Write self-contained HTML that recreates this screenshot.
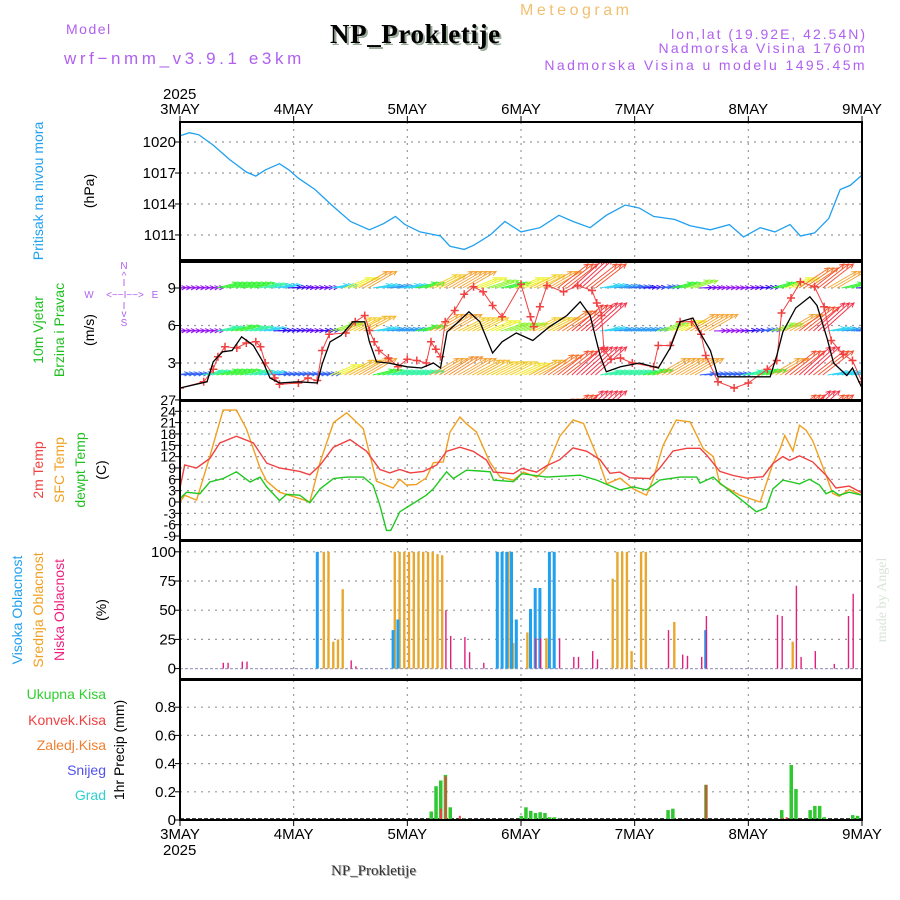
<!DOCTYPE html>
<html><head><meta charset="utf-8"><title>Meteogram NP_Prokletije</title>
<style>
html,body{margin:0;padding:0;background:#fff;}
svg{display:block;font-family:"Liberation Sans",sans-serif;}
</style></head>
<body>
<svg id="chart" width="900" height="900" viewBox="0 0 900 900" xmlns="http://www.w3.org/2000/svg">
<defs>
<clipPath id="clipP"><rect x="180" y="122" width="682" height="138"/></clipPath>
<clipPath id="clipW"><rect x="180" y="262" width="682" height="138"/></clipPath>
<clipPath id="clipT"><rect x="180" y="401" width="682" height="139"/></clipPath>
</defs>
<!-- header -->
<text x="520" y="15" font-size="16" fill="#f0c070" letter-spacing="3.5">Meteogram</text>
<text x="66" y="34" font-size="14" fill="#b060f0" letter-spacing="1.5">Model</text>
<text x="64" y="64" font-size="17" fill="#b060f0" letter-spacing="3.6">wrf−nmm_v3.9.1 e3km</text>
<text x="332" y="45" font-size="27" font-weight="bold" fill="#9a9" font-family="Liberation Serif, serif" letter-spacing="0.6">NP_Prokletije</text>
<text x="330" y="43" font-size="27" font-weight="bold" fill="#000" font-family="Liberation Serif, serif" letter-spacing="0.6">NP_Prokletije</text>
<text x="867" y="39" font-size="14" fill="#b060f0" text-anchor="end" letter-spacing="2">lon,lat (19.92E, 42.54N)</text>
<text x="867" y="53" font-size="14" fill="#b060f0" text-anchor="end" letter-spacing="2.2">Nadmorska Visina 1760m</text>
<text x="867" y="70" font-size="14" fill="#b060f0" text-anchor="end" letter-spacing="2.4">Nadmorska Visina u modelu 1495.45m</text>
<text x="163" y="99" font-size="15" fill="#000">2025</text>
<!-- left labels -->
<text transform="translate(43,191) rotate(-90)" font-size="14" fill="#20a0f0" text-anchor="middle">Pritisak na nivou mora</text>
<text transform="translate(94,191) rotate(-90)" font-size="14" fill="#000" text-anchor="middle">(hPa)</text>
<text transform="translate(43,330) rotate(-90)" font-size="14" fill="#20c020" text-anchor="middle">10m Vjetar</text>
<text transform="translate(64,330) rotate(-90)" font-size="14" fill="#20c020" text-anchor="middle">Brzina i Pravac</text>
<text transform="translate(94,330) rotate(-90)" font-size="14" fill="#000" text-anchor="middle">(m/s)</text>
<g fill="#b060f0" font-size="10" text-anchor="middle">
<text x="124" y="269">N</text><text x="124" y="279">^</text><text x="124" y="286">I</text>
<text x="89" y="298">W</text><text x="125" y="298">&lt;−−I−−&gt;</text><text x="155" y="298">E</text>
<text x="124" y="309">I</text><text x="124" y="317">v</text><text x="124" y="326">S</text>
</g>
<text transform="translate(43,470) rotate(-90)" font-size="14" fill="#f04040" text-anchor="middle">2m Temp</text>
<text transform="translate(64,470) rotate(-90)" font-size="14" fill="#f0a020" text-anchor="middle">SFC Temp</text>
<text transform="translate(85,470) rotate(-90)" font-size="14" fill="#20c020" text-anchor="middle">dewpt Temp</text>
<text transform="translate(106,470) rotate(-90)" font-size="14" fill="#000" text-anchor="middle">(C)</text>
<text transform="translate(22,610) rotate(-90)" font-size="14" fill="#20a0f0" text-anchor="middle">Visoka Oblacnost</text>
<text transform="translate(43,610) rotate(-90)" font-size="14" fill="#f0a020" text-anchor="middle">Srednja Oblacnost</text>
<text transform="translate(64,610) rotate(-90)" font-size="14" fill="#f0207f" text-anchor="middle">Niska Oblacnost</text>
<text transform="translate(106,610) rotate(-90)" font-size="14" fill="#000" text-anchor="middle">(%)</text>
<g font-size="14" text-anchor="end">
<text x="106" y="699" fill="#30d030">Ukupna Kisa</text>
<text x="106" y="725" fill="#f04040">Konvek.Kisa</text>
<text x="106" y="750" fill="#f08030">Zaledj.Kisa</text>
<text x="106" y="775" fill="#5050f0">Snijeg</text>
<text x="106" y="800" fill="#30d0d0">Grad</text>
</g>
<text transform="translate(124,750) rotate(-90)" font-size="14" fill="#000" text-anchor="middle">1hr Precip (mm)</text>
<text transform="translate(886,600) rotate(-90)" font-size="14" fill="#d8e4d8" font-family="Liberation Serif, serif" text-anchor="middle">made by Angel</text>
<text x="163" y="855" font-size="15" fill="#000">2025</text>
<text x="332" y="876" font-size="15" fill="#aaa" font-family="Liberation Serif, serif">NP_Prokletije</text>
<text x="331" y="875" font-size="15" fill="#333" font-family="Liberation Serif, serif">NP_Prokletije</text>
<g id="plots"></g>
</svg>
<script>
// ---------- data ----------
const dayLabels = ["3MAY","4MAY","5MAY","6MAY","7MAY","8MAY","9MAY"];
const pressTicks = [1011,1014,1017,1020];
const windTicks = [3,6,9];
const tempTicks = [-9,-6,-3,0,3,6,9,12,15,18,21,24,27];
const cloudTicks = [0,25,50,75,100];
const precipTicks = [0,0.2,0.4,0.6,0.8];

const pressHours = [0,2,4,7,10.5,14,16,18,21,23,25,28.5,32,36,40,43,45.5,47.5,50.7,55,57,60,62,65.5,68.6,72,76,80,83,86.6,90,94,97,100,104.5,107.7,112,116,119,122.5,125.6,128.8,131,134,137,139.4,141.5,144];
const pressValues = [1020.6,1020.9,1020.7,1019.7,1018.3,1017.1,1016.7,1017.3,1017.9,1017.3,1016.5,1015.4,1013.9,1012.3,1011.5,1012.1,1012.8,1012.0,1011.3,1010.9,1009.9,1009.6,1010.0,1011.0,1012.3,1011.3,1011.7,1012.9,1012.3,1011.7,1012.9,1013.9,1013.6,1012.8,1012.5,1011.9,1011.5,1012.0,1010.8,1011.7,1011.3,1012.0,1010.9,1011.2,1012.6,1015.4,1015.8,1016.8];

const windMeanHours = [0,5.7,7,9,11,13,15.5,17.5,19,21,25,29,30,31.7,34,36.5,39,40,41.5,44,48,51,53.5,55,56.4,58.5,61,63.3,66,68,71,74.5,78,81.7,84.5,86.6,88.7,90,93,97,101,103.5,105.6,108.3,110,112,113.6,119.7,124.6,126,127.3,130,133,134.5,136.6,138,140.8,142,144];
const windMeanValues = [1.0,1.5,3.1,3.9,4.0,5.1,4.4,3.1,1.8,1.4,1.5,1.4,2.9,4.7,5.2,6.3,6.3,4.7,3.1,3.0,2.7,2.6,3.0,2.6,5.5,6.2,7.1,6.3,3.8,4.7,5.4,4.8,5.9,6.8,7.9,6.8,3.6,2.3,2.7,3.0,2.6,4.2,6.3,6.6,5.3,4.0,1.9,1.9,1.9,3.6,5.5,7.4,8.3,7.6,5.0,3.0,2.0,2.6,1.0];
const gustHours = [0,5,7,8,9.5,12,14,16,17,18,20,21,25,27,29,30,31.5,35,37,39,40,41,42,44,46,48,50,52,53,54,55,56,58,60,62,64,66,68,72,74,74.7,76,77.5,81,84,87,88,89,89.5,91,93,95.5,100,101,103.5,105.6,108,110,111,113.6,117,120,124,126,127,129,131,134,136,137.5,140,142,144];
const gustValues = [1.0,1.5,2.5,3.5,4.3,4.2,4.6,4.7,4.3,3.0,1.8,1.3,1.4,1.8,1.6,4.0,5.3,5.4,6.3,6.8,5.6,4.7,4.0,3.4,2.7,3.3,3.2,3.0,4.7,4.1,3.5,6.3,7.2,8.5,9.1,8.7,7.6,6.7,9.3,6.7,5.9,7.5,9.2,8.7,9.2,8.8,7.8,6.8,4.1,3.3,3.4,3.0,2.7,4.4,4.4,6.3,6.3,5.3,3.6,1.5,1.0,1.4,2.5,3.2,7.0,8.2,9.5,9.1,7.5,4.8,3.7,3.2,1.5];
// wind arrow speeds, every 3 hours, per level
const arrowLevel1 = [1,1,1,4,4,4,3.5,3,1.5,1.2,1.2,3,6,8,3,2.5,3,4,7,8,8,6,5,4,6,7,8,10,11,10,3,2.5,2,1.5,2,4,5,1.2,1,1,1.2,1.5,4,6,9,10,8,4,1.5];
const arrowLevel2 = [1,1,1,3.5,4,3.5,3,1.5,1.5,1.2,1.5,5,7,7.5,3,2.5,2.5,4,8,8,7,7,6,5,5,7,7,9,10.5,11,3,2.5,2.5,2.5,5,6,8,8,1,1,1.5,2,5,8,10,11,3,2.5,2];
const arrowLevel3 = [2,2,3.5,4,4,3.5,3,2,2,2,2,6,7.5,8,4,3.5,3.5,3.5,8,8.5,8,7.5,7,7,6.5,7.5,9,10,11,11,3.5,3.5,3.5,4,8,8,8,2,2,2,3.5,4,8,10,11,10,3,3,3];

const t2Hours = [0,1,3.5,6.3,8.4,11.9,15.5,18.3,21,25.3,27.4,29.6,32.4,35.9,39.4,42.2,44.3,46.4,48.6,51.4,54.2,56.3,59.1,61.9,64.7,66.2,70.4,72.2,75.3,77.4,80.2,83,85.9,88.7,90.8,92.9,95,99.2,101.3,104.1,107,109.8,111.2,114,116.8,119.6,123.1,125.2,127.3,128.7,130.8,133.6,136.4,138.5,141.3,144];
const t2Values = [3.7,9.8,9.0,11.5,15.6,17.4,15.6,10.3,9.0,8.1,7.2,9.8,14.5,16.5,13.4,8.6,7.7,8.6,7.7,8.1,9.8,13.4,14.5,13.4,11.1,7.9,7.5,8.9,7.9,9.6,11.2,14.3,13.4,11.2,7.6,7.9,6.4,6.2,9.0,13.5,14.2,14.2,12.4,8.1,7.0,6.3,6.7,10.2,12.0,11.0,12.2,10.6,7.1,3.7,4.2,2.4];
const sfcHours = [0,1,3.5,6.3,9.1,11.9,14,16.9,18.3,21,25.3,27.4,29.6,32.4,35.2,38.7,41.5,45,46.4,47.8,49.9,52,53.5,55.6,57,59.1,60.5,62.6,65.4,67.6,70.4,72.5,75.3,77.4,80.2,83,85.2,88,90.1,92.9,95.7,98.5,99.9,102,104.8,107.7,110.5,112.6,114,118.2,122.5,125.2,126.6,127.7,129.4,130.8,132.2,133.6,136.4,137.8,139.2,141.3,144];
const sfcValues = [0,1.8,0.5,12,24.3,24.3,19.4,9.0,5.5,2.6,0.9,0,10.6,21,23.6,19.4,5.5,3.7,6,4.5,4.6,6.4,10.4,10.6,18.5,22.5,20.7,18.5,10.6,6.6,5.8,7.9,6.6,9.0,17.4,21.7,20.8,12.3,4.8,6.3,3.5,1.8,6,15,21.7,21.2,14.1,12,4.8,1.8,0,10.2,13.7,17.6,13.5,20.3,19,16.2,7.1,2.3,1.5,3.3,1.8];
const dewHours = [0,1.4,4.2,6.3,9.1,11.9,14.8,16.9,18.3,21,22.5,25.3,27.4,29.6,32.4,35.2,38.7,40.8,42.2,43.6,44.5,46.4,49.2,52,53.5,56.3,57.7,60.5,63.3,65.5,66.2,70.4,72.2,77.4,84.5,88,92.9,95.7,98.5,101.3,105.6,109.1,109.8,112.6,114,118.2,121.7,123.8,125.2,127.3,130.8,132.9,135,136.4,137.8,139.2,141.3,144];
const dewValues = [0.9,2.6,2.2,5.3,6.2,8.0,5.3,6.6,4.0,0.4,2.0,1.8,-0.2,3.5,6.2,6.6,6.6,4.4,-0.9,-7.5,-7.5,-2.6,-0.4,1.8,3.5,8.0,6.2,8.4,8.2,8.0,5.8,5.4,7.5,6.6,7.1,5.8,3.2,4.0,3.2,5.8,6.6,6.6,5.0,6.6,5.0,0.9,-2.6,-1.5,3.5,5.8,4.8,6.0,4.5,2.2,3.0,1.8,2.6,1.8];

const highCloudHours = [29,45,46,67,68,69,70,71,74,75,76,78,79,111];
const highCloudValues = [100,33,42,100,100,100,100,42,51,69,69,100,100,33];
const midCloudHours = [30,31,32,33,34,45,46,47,48,49,50,51,52,53,54,55,69,70,73,77,91,92,93,94,95,97,98,104,129];
const midCloudValues = [100,100,23,25,68,100,100,100,100,100,100,100,100,100,98,97,100,22,31,26,77,100,100,100,15,100,100,40,23];
const lowCloudHours = [9,10,13,14,36,37,56,57,60,61,64,75,76,80,83,84,87,88,103,106,107,110,111,126,127,130,131,134,138,141,142];
const lowCloudValues = [5,5,6,6,7,2,50,28,27,14,5,26,26,26,10,10,15,8,33,12,11,10,45,46,45,71,10,15,4,45,64];

const totalPrecipHours = [53,54,55,56,57,60,72,73,74,75,76,77,78,79,80,103,104,111,127,129,130,133,134,135,136,142,143];
const totalPrecipValues = [0.06,0.24,0.28,0.32,0.09,0.01,0.03,0.09,0.065,0.05,0.055,0.05,0.02,0.02,0.01,0.07,0.08,0.25,0.07,0.39,0.22,0.07,0.1,0.1,0.02,0.035,0.03];
const convPrecipHours = [55,56,59,111,127,128];
const convPrecipValues = [0.08,0.31,0.03,0.25,0.015,0.02];

// ---------- scales ----------
const X0 = 180, X1 = 862, HMAX = 144;
function xs(h){ return X0 + h*(X1-X0)/HMAX; }
function yPress(p){ return 142 + (1020-p)*10.33; }
function yWind(v){ return 400.5 - v*12.5; }
function yTemp(t){ return 502 - t*3.78; }
function yCloud(c){ return 668.6 - c*1.168; }
function yPrecip(p){ return 820 - p*141; }

const NS = "http://www.w3.org/2000/svg";
const root = document.getElementById("plots");
function mk(tag, attrs, parent){
  const e = document.createElementNS(NS, tag);
  for (const k in attrs) e.setAttribute(k, attrs[k]);
  (parent||root).appendChild(e);
  return e;
}
function fmt(n){ return Math.round(n*10)/10; }

const panels = [
  {name:"pressure", top:122, bot:260, ticks:pressTicks, yf:yPress, lab:v=>String(v)},
  {name:"wind", top:262, bot:400, ticks:windTicks, yf:yWind, lab:v=>String(v)},
  {name:"temperature", top:401, bot:540, ticks:tempTicks, yf:yTemp, lab:v=>String(v)},
  {name:"cloud", top:541, bot:679, ticks:cloudTicks, yf:yCloud, lab:v=>String(v)},
  {name:"precip", top:680, bot:820, ticks:precipTicks, yf:yPrecip, lab:v=>(v===0?"0":v.toFixed(1))}
];

// grids & axes
panels.forEach(p => {
  const g = mk("g", {});
  
  
  for (let d=1; d<6; d++){
    const l = mk("line", {x1:xs(d*24), x2:xs(d*24), y1:p.top, y2:p.bot, stroke:"#999", "stroke-width":1.2, "stroke-dasharray":"2,5"}, g);
    
    
  }
  p.ticks.forEach(t => {
    const y = p.yf(t);
    const fs = p.name==="temperature" ? 14 : 15;
    if (!(p.name==="temperature" && (t===27 || t===-9)) && !(p.name==="precip" && t===0) && !(p.name==="cloud" && t===0)){
      const l = mk("line", {x1:X0, x2:X1, y1:y, y2:y, stroke:"#999", "stroke-width":1.2, "stroke-dasharray":"2,5"}, g);
      
      
    }
    const tk = mk("line", {x1:X0-5, x2:X0, y1:y, y2:y, stroke:"#000", "stroke-width":1}, g);
    
    
    const tx = mk("text", {x:X0-4, y:y+5, "font-size":fs, "text-anchor":"end", fill:"#000"}, g);
    
    
    tx.textContent = p.lab(t);
  });
});

// ---------- pressure ----------
{
  const d = pressHours.map((h,i)=>(i?"L":"M")+fmt(xs(h))+","+fmt(yPress(pressValues[i]))).join("");
  const l = mk("path", {d:d, fill:"none", stroke:"#20a0f0", "stroke-width":1.3, "clip-path":"url(#clipP)"});
  
  
}

// ---------- wind arrows ----------
function speedColor(s){
  const stops = [[1,275],[2,225],[3,190],[4,120],[6,62],[8,35],[10,10],[12,-25]];
  let hue = stops[0][1];
  if (s >= stops[stops.length-1][0]) hue = stops[stops.length-1][1];
  else for (let i=0;i<stops.length-1;i++){
    if (s>=stops[i][0] && s<=stops[i+1][0]){ const f=(s-stops[i][0])/(stops[i+1][0]-stops[i][0]); hue = stops[i][1]+f*(stops[i+1][1]-stops[i][1]); break; }
  }
  hue = (hue+360)%360;
  return "hsl("+fmt(hue)+",90%,"+(s<1.6?50:58)+"%)";
}
const arrowGroup = mk("g", {"clip-path":"url(#clipW)"});


const levels = [[arrowLevel1,288],[arrowLevel2,331],[arrowLevel3,375],[arrowLevel3,419]];
levels.forEach((lv) => {
  const arr = lv[0], baseY = lv[1];
  arr.forEach((s, i) => {
    const h = i*3;
    const x = xs(h) - 6;
    const ang = Math.min(42, s*4 - 2) * Math.PI/180;
    const L = 9 + s*3.0;
    const x2 = x + L*Math.cos(ang), y2 = baseY - L*Math.sin(ang);
    const c = speedColor(s);
    const a1 = ang + Math.PI - 0.45, a2 = ang + Math.PI + 0.45;
    const d = "M"+fmt(x)+","+fmt(baseY)+"L"+fmt(x2)+","+fmt(y2)+
      "M"+fmt(x2+5*Math.cos(a1))+","+fmt(y2-5*Math.sin(a1))+"L"+fmt(x2)+","+fmt(y2)+"L"+fmt(x2+5*Math.cos(a2))+","+fmt(y2-5*Math.sin(a2));
    for (let k=0;k<3;k++){
      const e = mk("path", {d:d, transform:"translate("+(k*4.7)+",0)", fill:"none", stroke:c, "stroke-width":1}, arrowGroup);
      
      
    }
  });
});

// gust line & mean speed
{
  const d = gustHours.map((h,i)=>(i?"L":"M")+fmt(xs(h))+","+fmt(yWind(gustValues[i]))).join("");
  const l = mk("path", {d:d, fill:"none", stroke:"#f04040", "stroke-width":1, "clip-path":"url(#clipW)"});
  
  
  gustHours.forEach((h,i) => {
    const x = xs(h), y = yWind(gustValues[i]);
    const m = mk("path", {d:"M"+fmt(x-4)+","+fmt(y)+"H"+fmt(x+4)+"M"+fmt(x)+","+fmt(y-4)+"V"+fmt(y+4), stroke:"#f04040", "stroke-width":1.5, "clip-path":"url(#clipW)"});
    
    
  });
  const d2 = windMeanHours.map((h,i)=>(i?"L":"M")+fmt(xs(h))+","+fmt(yWind(windMeanValues[i]))).join("");
  const l2 = mk("path", {d:d2, fill:"none", stroke:"#000", "stroke-width":1.3, "clip-path":"url(#clipW)"});
  
  
}

// ---------- temperatures ----------
[[sfcHours,sfcValues,"#f0a020","sfc-temp-line"],[t2Hours,t2Values,"#f04040","temp-2m-line"],[dewHours,dewValues,"#20c820","dewpoint-line"]].forEach(s => {
  const d = s[0].map((h,i)=>(i?"L":"M")+fmt(xs(h))+","+fmt(yTemp(s[1][i]))).join("");
  const l = mk("path", {d:d, fill:"none", stroke:s[2], "stroke-width":1.4, "clip-path":"url(#clipT)"});
  
  
});

// ---------- clouds ----------
{
  const zl = mk("line", {x1:X0, x2:X1, y1:yCloud(0), y2:yCloud(0), stroke:"#a0a0c0", "stroke-width":1.2, "stroke-dasharray":"3,2"});
  
  
}
[[midCloudHours,midCloudValues,"#e8a830",2.4,0.5,"mid-cloud-bar"],[highCloudHours,highCloudValues,"#20a0f0",3,-1.5,"high-cloud-bar"],[lowCloudHours,lowCloudValues,"#e0207f",1.4,0,"low-cloud-bar"]].forEach(s => {
  s[0].forEach((h,i) => {
    const y = yCloud(s[1][i]);
    const r = mk("rect", {x:fmt(xs(h)+s[4]), y:fmt(y), width:s[3], height:fmt(yCloud(0)-y), fill:s[2]});
    
    
  });
});

// ---------- precip ----------
{
  const zl = mk("line", {x1:X0, x2:X1, y1:yPrecip(0)-1, y2:yPrecip(0)-1, stroke:"#000", "stroke-width":1.5, "stroke-dasharray":"4,2"});
  
  
}
totalPrecipHours.forEach((h,i) => {
  const y = yPrecip(totalPrecipValues[i]);
  const r = mk("rect", {x:fmt(xs(h)-1.5), y:fmt(y), width:3.5, height:fmt(yPrecip(0)-y), fill:"#30c830"});
  
  
});
convPrecipHours.forEach((h,i) => {
  const y = yPrecip(convPrecipValues[i]);
  const r = mk("rect", {x:fmt(xs(h)-0.5), y:fmt(y), width:2, height:fmt(yPrecip(0)-y), fill:"#f04040"});
  
  
});

// ---------- borders & time axis ----------
panels.forEach(p => {
  const b = mk("rect", {x:X0, y:p.top, width:X1-X0, height:p.bot-p.top, fill:"none", stroke:"#000", "stroke-width":2});
  
  
});
dayLabels.forEach((lab, d) => {
  const x = xs(d*24);
  const t1 = mk("line", {x1:x, x2:x, y1:116, y2:122, stroke:"#000", "stroke-width":1});
  
  
  const t2 = mk("line", {x1:x, x2:x, y1:820, y2:826, stroke:"#000", "stroke-width":1});
  
  
  const a = mk("text", {x:x, y:114, "font-size":15, "text-anchor":"middle", fill:"#000"});
  
  
  a.textContent = lab;
  const b = mk("text", {x:x, y:839, "font-size":15, "text-anchor":"middle", fill:"#000"});
  
  
  b.textContent = lab;
});
</script>
</body></html>
